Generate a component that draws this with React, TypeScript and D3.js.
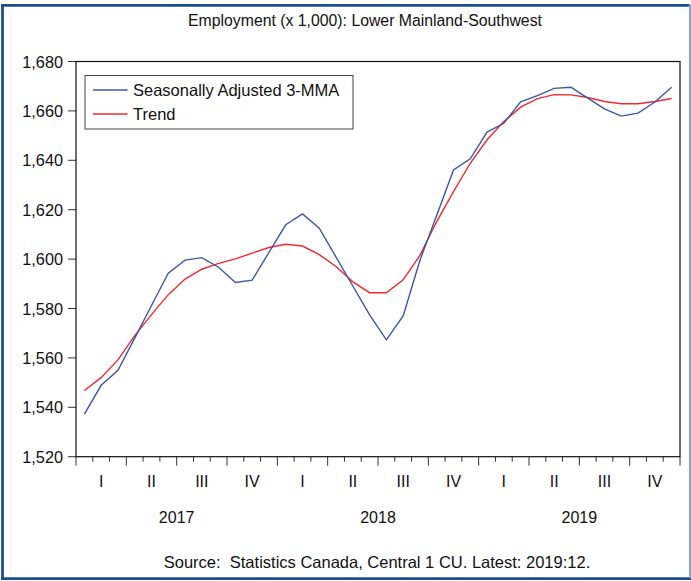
import React from "react";
import * as d3 from "d3";

const months: number[] = d3.range(36);
const saValues: number[] = [1537.2, 1548.9, 1555.0, 1568.0, 1581.2, 1594.3, 1599.6, 1600.6, 1596.7, 1590.5, 1591.5, 1602.7, 1613.9, 1618.3, 1612.5, 1600.8, 1589.1, 1577.4, 1567.3, 1577.0, 1599.5, 1617.8, 1636.1, 1640.6, 1651.4, 1655.0, 1663.7, 1666.2, 1669.1, 1669.6, 1665.2, 1660.8, 1657.9, 1659.1, 1663.6, 1669.6];
const trendValues: number[] = [1546.8, 1552.0, 1559.2, 1569.0, 1577.5, 1585.6, 1591.9, 1595.9, 1598.3, 1600.1, 1602.4, 1604.7, 1606.0, 1605.3, 1601.8, 1597.0, 1590.8, 1586.4, 1586.4, 1591.6, 1601.5, 1615.2, 1627.3, 1638.8, 1648.3, 1655.7, 1661.5, 1665.0, 1666.6, 1666.5, 1665.4, 1663.8, 1662.9, 1662.9, 1663.8, 1665.0];
const yTicks: number[] = [1520, 1540, 1560, 1580, 1600, 1620, 1640, 1660, 1680];
const quarterLabels: string[] = ["I", "II", "III", "IV", "I", "II", "III", "IV", "I", "II", "III", "IV"];
const yearLabels: string[] = ["2017", "2018", "2019"];
const seriesNames: string[] = ["Seasonally Adjusted 3-MMA", "Trend"];
const title = "Employment (x 1,000): Lower Mainland-Southwest";
const source = "Source:  Statistics Canada, Central 1 CU. Latest: 2019:12.";

const W = 691, H = 581;
const L = 76, R = 680, T = 61.5, B = 456.7;
const FONT = "'Liberation Sans', Arial, sans-serif";
const BLUE = "#3D57A8";
const RED = "#EE2A30";

export default function App() {
  const x = d3.scaleLinear().domain([0, months.length]).range([L, R]);
  const y = d3.scaleLinear().domain([1520, 1680]).range([B, T]);
  const line = d3.line<number>().x((_, i) => x(i + 0.5)).y((d) => y(d));
  const fmt = d3.format(",");

  return (
    <svg width={W} height={H} style={{ position: "absolute", left: 0, top: 0, background: "#fff" }}>
      <rect x={0} y={0} width={W} height={H} fill="#fff" />
      {/* outer frame */}
      <line x1={2.5} y1={4} x2={2.5} y2={580} stroke="#1F4E8C" strokeWidth={2.8} />
      <line x1={1} y1={5.3} x2={689} y2={5.3} stroke="#1F4E8C" strokeWidth={2.8} />
      <line x1={1} y1={578.6} x2={691} y2={578.6} stroke="#1F4E8C" strokeWidth={2.8} />
      <line x1={690} y1={4} x2={690} y2={578} stroke="#86A3C8" strokeWidth={2} />

      <text x={365} y={20} textAnchor="middle" dominantBaseline="central" fontFamily={FONT} fontSize={15.8} fill="#111">{title}</text>

      {/* y axis */}
      {yTicks.map((t) => (
        <g key={t}>
          <line x1={68} x2={L} y1={y(t)} y2={y(t)} stroke="#333" strokeWidth={1} />
          <text x={63} y={y(t)} textAnchor="end" dominantBaseline="central" fontFamily={FONT} fontSize={16.3} fill="#111">{fmt(t)}</text>
        </g>
      ))}

      {/* x axis ticks */}
      {d3.range(months.length + 1).map((m) => (
        <line key={m} x1={x(m)} x2={x(m)} y1={B} y2={B + (m % 3 === 0 ? 9 : 5)} stroke="#333" strokeWidth={1} />
      ))}
      {quarterLabels.map((q, k) => (
        <text key={k} x={x(3 * k + 1.5)} y={481} textAnchor="middle" dominantBaseline="central" fontFamily={FONT} fontSize={16} fill="#111">{q}</text>
      ))}
      {yearLabels.map((yr, k) => (
        <text key={yr} x={x(12 * k + 6)} y={517} textAnchor="middle" dominantBaseline="central" fontFamily={FONT} fontSize={16} fill="#111">{yr}</text>
      ))}

      {/* plot frame */}
      <rect x={L} y={T} width={R - L} height={B - T} fill="none" stroke="#111" strokeWidth={1.2} />

      <path d={line(trendValues) || ""} fill="none" stroke={RED} strokeWidth={1.4} />
      <path d={line(saValues) || ""} fill="none" stroke={BLUE} strokeWidth={1.4} />

      {/* legend */}
      <rect x={85} y={75.5} width={268} height={53.5} fill="#fff" stroke="#444" strokeWidth={1} />
      {seriesNames.map((n, i) => (
        <g key={n}>
          <line x1={93} x2={127.5} y1={90 + i * 24} y2={90 + i * 24} stroke={i === 0 ? BLUE : RED} strokeWidth={1.4} />
          <text x={133} y={90 + i * 24} dominantBaseline="central" fontFamily={FONT} fontSize={16.5} fill="#111">{n}</text>
        </g>
      ))}

      <text x={377} y={562} textAnchor="middle" dominantBaseline="central" fontFamily={FONT} fontSize={16.5} fill="#111" style={{ whiteSpace: "pre" }}>{source}</text>
    </svg>
  );
}
